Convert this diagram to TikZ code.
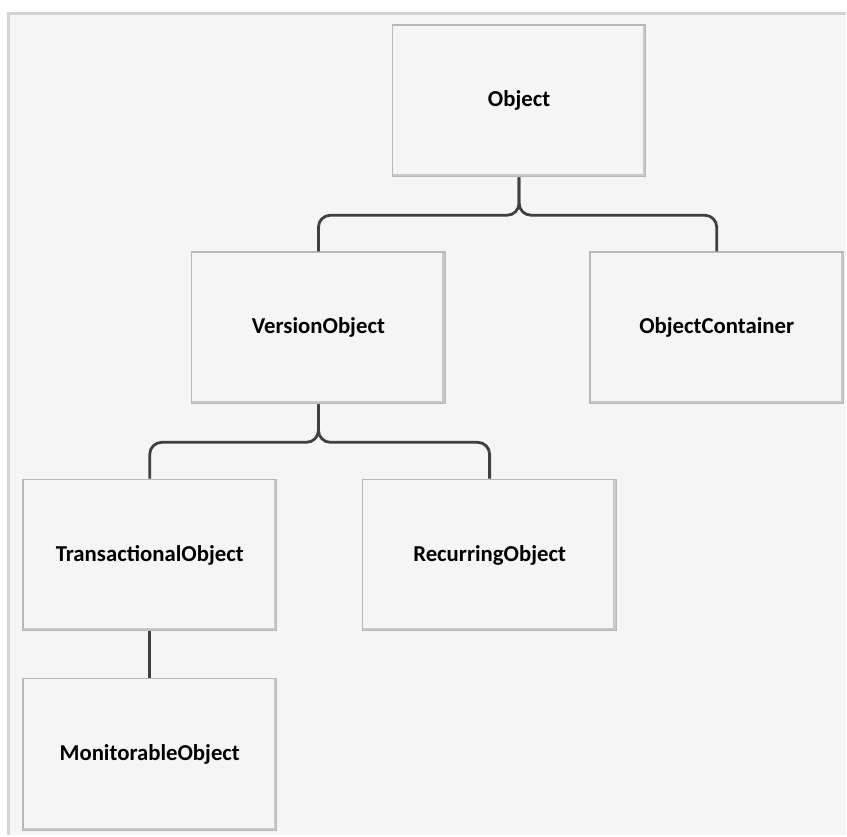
\documentclass[tikz,border=0pt]{standalone}
\usepackage{fontspec}
\setmainfont{Carlito}
\usetikzlibrary{positioning}
\definecolor{pagebg}{HTML}{F5F5F5}
\definecolor{framegray}{HTML}{D4D4D4}
\definecolor{boxline}{HTML}{B8B8B8}
\definecolor{boxshade}{HTML}{C8C8C8}
\definecolor{linkgray}{HTML}{404040}

\begin{document}
\begin{tikzpicture}[x=0.5pt, y=-0.5pt,
    classbox/.style={draw=boxline, fill=pagebg, line width=0.6pt,
      minimum width=127pt, minimum height=76pt, inner sep=0pt,
      font=\bfseries\fontsize{11.4}{13}\selectfont,
      path picture={\draw[boxshade, line width=3pt]
        (path picture bounding box.south west) -- (path picture bounding box.south east)
        -- (path picture bounding box.north east);}},
    link/.style={draw=linkgray, line width=1.4pt, rounded corners=6pt}]
    % page and its frame (units of pixels)
    \fill[white] (0,0) rectangle (847,836);
    \fill[pagebg] (10,13) rectangle (847,836);
    \draw[framegray, line width=1.5pt] (8.5,836) -- (8.5,13.5) -- (847,13.5);

    % the classes
    \node[classbox] (obj) at (520,101) {Object};
    \node[classbox] (ver) at (319,328.5) {VersionObject};
    \node[classbox] (cont) at (718,328.5) {ObjectContainer};
    \node[classbox] (trans) at (150,556) {TransactionalObject};
    \node[classbox] (recur) at (490.5,556) {RecurringObject};
    \node[classbox] (mon) at (150,756) {MonitorableObject};

    % Syntax: parent down to the bus, then round the corner to the child
    \draw[link] (obj.south) -- ++(0,38) -| (ver.north);
    \draw[link] (obj.south) -- ++(0,38) -| (cont.north);
    \draw[link] (ver.south) -- ++(0,38) -| (trans.north);
    \draw[link] (ver.south) -- ++(0,38) -| (recur.north);
    \draw[link] (trans.south) -- (mon.north);
\end{tikzpicture}
\end{document}
